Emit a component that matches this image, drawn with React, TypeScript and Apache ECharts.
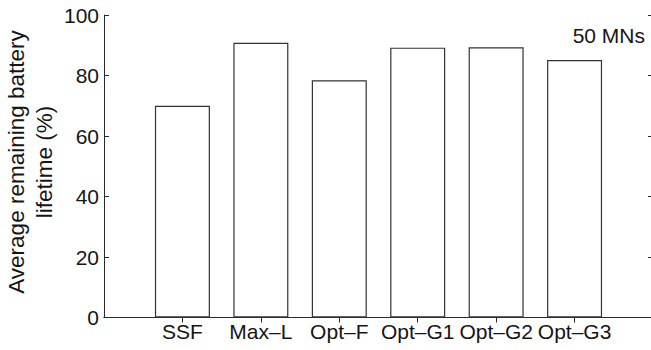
import React, { useEffect, useRef } from "react";
import * as echarts from "echarts";

const categories = ["SSF", "Max–L", "Opt–F", "Opt–G1", "Opt–G2", "Opt–G3"];
const lifetime = [70.0, 90.8, 78.4, 89.2, 89.3, 85.1];
const yTicks = [0, 20, 40, 60, 80, 100];
const noteText = "50 MNs";
const yTitle = "Average remaining battery\nlifetime (%)";

const FONT = "Liberation Sans";
const TEXT = "#151515";
const LINE = "#2a2a2a";

export default function App() {
  const ref = useRef<HTMLDivElement>(null);
  useEffect(() => {
    document.body.style.margin = "0";
    if (!ref.current) return;
    const chart = echarts.init(ref.current, undefined, { renderer: "svg" });
    const xData = ["", ...categories, ""];
    const sData: any[] = [null, ...lifetime, null];
    const hideEnds = (i: number) => i > 0 && i < xData.length - 1;
    chart.setOption({
      animation: false,
      backgroundColor: "#ffffff",
      grid: {
        left: 104,
        top: 15,
        width: 549,
        height: 302.5,
        containLabel: false,
        outerBoundsMode: "none",
      },
      xAxis: [
        {
          type: "category",
          data: xData,
          boundaryGap: false,
          position: "bottom",
          axisLine: { show: true, lineStyle: { color: LINE, width: 1 } },
          axisTick: { show: false },
          axisLabel: {
            show: true,
            interval: 0,
            color: TEXT,
            fontFamily: FONT,
            fontSize: 21,
            margin: 3,
          },
          splitLine: { show: false },
        },
        {
          type: "category",
          data: xData,
          boundaryGap: false,
          position: "top",
          axisLine: { show: true, lineStyle: { color: LINE, width: 1 } },
          axisTick: { show: true, inside: true, length: 5, interval: (i: number) => hideEnds(i), lineStyle: { color: LINE } },
          axisLabel: { show: false },
          splitLine: { show: false },
        },
      ],
      yAxis: [
        {
          type: "value",
          min: yTicks[0],
          max: yTicks[yTicks.length - 1],
          interval: 20,
          position: "left",
          axisLine: { show: true, lineStyle: { color: LINE, width: 1 } },
          axisTick: { show: true, inside: true, length: 5, lineStyle: { color: LINE } },
          axisLabel: { color: TEXT, fontFamily: FONT, fontSize: 21, margin: 5 },
          splitLine: { show: false },
        },
        {
          type: "value",
          min: yTicks[0],
          max: yTicks[yTicks.length - 1],
          interval: 20,
          position: "right",
          axisLine: { show: true, lineStyle: { color: LINE, width: 1 } },
          axisTick: { show: true, inside: true, length: 5, lineStyle: { color: LINE } },
          axisLabel: { show: false },
          splitLine: { show: false },
        },
      ],
      series: [
        {
          type: "bar",
          xAxisIndex: 0,
          yAxisIndex: 0,
          data: sData,
          barWidth: 55,
          itemStyle: { color: "#ffffff", borderColor: "#333333", borderWidth: 1.2 },
          z: 1,
        },
      ],
      graphic: [
        {
          type: "text",
          x: 645,
          y: 35,
          style: {
            text: noteText,
            fill: TEXT,
            font: `21px "${FONT}"`,
            textAlign: "right",
            textVerticalAlign: "middle",
          },
        },
        {
          type: "text",
          x: 30,
          y: 162,
          rotation: Math.PI / 2,
          style: {
            text: yTitle,
            fill: TEXT,
            font: `22.5px "${FONT}"`,
            lineHeight: 28,
            textAlign: "center",
            textVerticalAlign: "middle",
          },
        },
      ],
    });
    return () => chart.dispose();
  }, []);
  return <div ref={ref} style={{ width: 651, height: 350 }} />;
}
